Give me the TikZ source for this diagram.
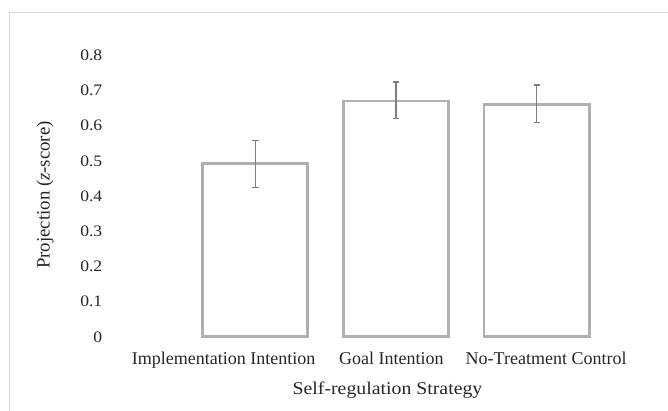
\documentclass[tikz,border=0pt]{standalone}
\usepackage{fontspec}
\setmainfont{Liberation Serif}
\definecolor{framegray}{HTML}{D9D9D9}
\definecolor{bargray}{HTML}{AFAFAF}
\definecolor{errgray}{HTML}{7F7F7F}
\definecolor{txt}{HTML}{262626}
\begin{document}
\begin{tikzpicture}[x=1pt,y=-1pt,
  lbl/.style={font=\fontsize{18}{21}\selectfont, text=txt, inner sep=0pt},
  ticklbl/.style={font=\fontsize{16}{19}\selectfont, text=txt, inner sep=0pt, xscale=1.1},
  barbox/.style={draw=bargray, line width=2.6pt, fill=white},
  errbar/.style={draw=errgray, line width=1.2pt}]
\useasboundingbox (0,0) rectangle (668,410);
% frame
\draw[framegray, line width=1pt] (9.5,420) -- (9.5,12) -- (680,12);
% y tick labels
\foreach \v/\t [count=\i] in {0/0,0.1/0.1,0.2/0.2,0.3/0.3,0.4/0.4,0.5/0.5,0.6/0.6,0.7/0.7,0.8/0.8}
  \node[ticklbl, anchor=base east] (tick\i) at (102.5, {336.7-\v*352.1+5.4}) {\t};
% bars
\draw[barbox] (202.7,336.7) rectangle (307.3,163.4);
\draw[barbox] (343.3,336.7) rectangle (448.3,100.8);
\draw[barbox] (484,336.7) rectangle (589.5,104.3);
% error bars
\foreach \x/\a/\b in {255.5/140.7/187.3, 396/82/118.7, 536.7/85/122.7}{
  \draw[errbar] (\x,\a) -- (\x,\b);
  \draw[errbar] (\x-3.2,\a) -- (\x+3.2,\a);
  \draw[errbar] (\x-3.2,\b) -- (\x+3.2,\b);
}
% category labels
\node[lbl, anchor=base west] (c1) at (131.7,364.3) {Implementation Intention};
\node[lbl, anchor=base west] (c2) at (339,364.3) {Goal Intention};
\node[lbl, anchor=base west] (c3) at (465.5,364.3) {No-Treatment Control};
\node[lbl, anchor=base, xscale=1.1] (xt) at (387.5,394) {Self-regulation Strategy};
\node[lbl, rotate=90, font=\fontsize{18.8}{22}\selectfont] (yt) at (45,195) {Projection (\textit{z}-score)};
\end{tikzpicture}
\end{document}
